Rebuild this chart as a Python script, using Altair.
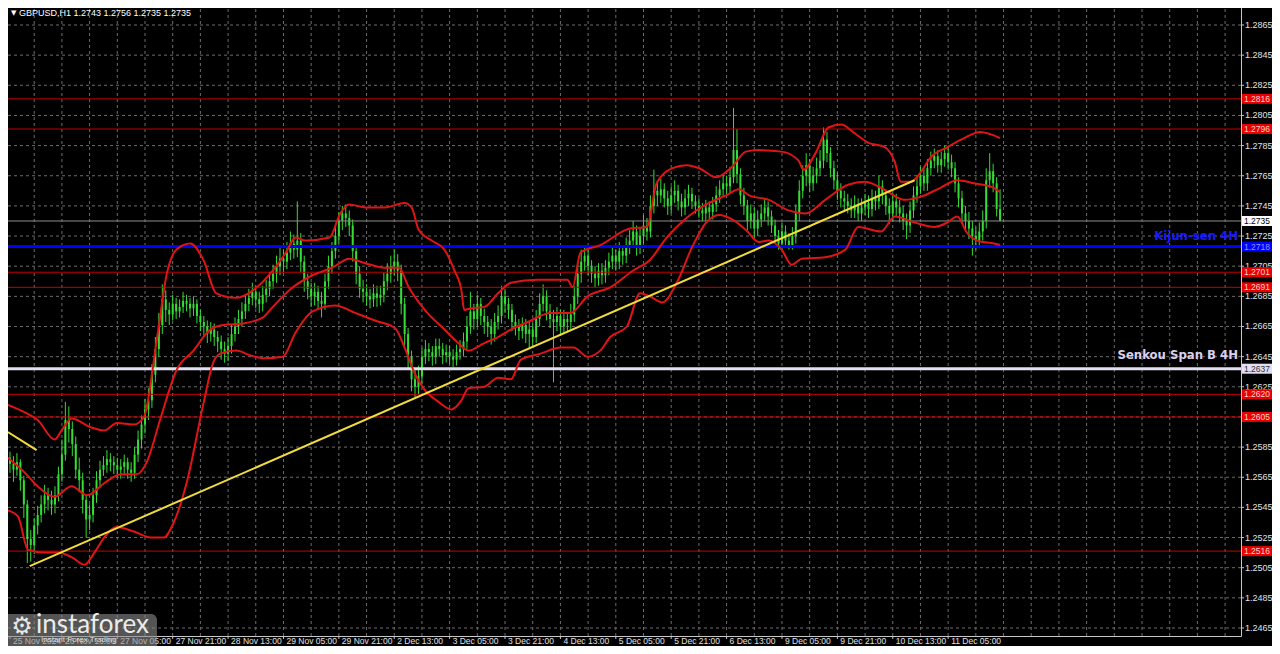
import altair as alt
import pandas as pd

# ---------------- data ----------------
OPEN0 = 1.2578
CLOSE = [
    1.2574, 1.2570, 1.2575, 1.2563, 1.2547, 1.2524, 1.2520, 1.2533, 1.2540, 1.2547,
    1.2553, 1.2550, 1.2547, 1.2553, 1.2567, 1.2580, 1.2603, 1.2597, 1.2587, 1.2570,
    1.2563, 1.2550, 1.2537, 1.2540, 1.2553, 1.2563, 1.2570, 1.2573, 1.2577, 1.2575,
    1.2573, 1.2570, 1.2572, 1.2575, 1.2570, 1.2568, 1.2580, 1.2590, 1.2600, 1.2610,
    1.2616, 1.2633, 1.2650, 1.2666, 1.2683, 1.2676, 1.2673, 1.2680, 1.2675, 1.2678,
    1.2682, 1.2680, 1.2677, 1.2680, 1.2672, 1.2668, 1.2665, 1.2660, 1.2663, 1.2658,
    1.2655, 1.2650, 1.2647, 1.2652, 1.2660, 1.2665, 1.2670, 1.2675, 1.2680, 1.2684,
    1.2688, 1.2683, 1.2680, 1.2686, 1.2690, 1.2695, 1.2700, 1.2705, 1.2710, 1.2708,
    1.2714, 1.2720, 1.2716, 1.2722, 1.2708, 1.2695, 1.2690, 1.2685, 1.2688, 1.2682,
    1.2680, 1.2695, 1.2705, 1.2715, 1.2725, 1.2735, 1.2740, 1.2737, 1.2732, 1.2715,
    1.2700, 1.2690, 1.2688, 1.2685, 1.2683, 1.2687, 1.2684, 1.2686, 1.2695, 1.2700,
    1.2705, 1.2708, 1.2702, 1.2680, 1.2660, 1.2645, 1.2630, 1.2625, 1.2632, 1.2645,
    1.2650, 1.2648, 1.2645, 1.2652, 1.2650, 1.2646, 1.2648, 1.2645, 1.2643, 1.2648,
    1.2650, 1.2655, 1.2665, 1.2675, 1.2670, 1.2680, 1.2672, 1.2668, 1.2665, 1.2660,
    1.2668, 1.2672, 1.2685, 1.2680, 1.2676, 1.2668, 1.2665, 1.2662, 1.2666, 1.2660,
    1.2663, 1.2658, 1.2670, 1.2680, 1.2685, 1.2675, 1.2670, 1.2668, 1.2672, 1.2665,
    1.2670, 1.2668, 1.2673, 1.2685, 1.2700, 1.2708, 1.2712, 1.2705, 1.2700, 1.2697,
    1.2702, 1.2699, 1.2704, 1.2708, 1.2712, 1.2708, 1.2715, 1.2712, 1.2718, 1.2722,
    1.2728, 1.2718, 1.2725, 1.2732, 1.2728, 1.2745, 1.2755, 1.2752, 1.2756, 1.2750,
    1.2745, 1.2752, 1.2755, 1.2748, 1.2744, 1.2750, 1.2753, 1.2748, 1.2745, 1.2742,
    1.2740, 1.2744, 1.2741, 1.2746, 1.2752, 1.2756, 1.2760, 1.2758, 1.2764, 1.2782,
    1.2766, 1.2752, 1.2745, 1.2735, 1.2740, 1.2730, 1.2736, 1.2740, 1.2744, 1.2738,
    1.2732, 1.2725, 1.2720, 1.2728, 1.2722, 1.2718, 1.2725, 1.2740, 1.2755, 1.2765,
    1.2772, 1.2760, 1.2765, 1.2770, 1.2775, 1.2789, 1.2780, 1.2770, 1.2762, 1.2755,
    1.2750, 1.2748, 1.2745, 1.2742, 1.2746, 1.2740, 1.2744, 1.2747, 1.2743, 1.2750,
    1.2748, 1.2758, 1.2752, 1.2745, 1.2740, 1.2748, 1.2744, 1.2740, 1.2735, 1.2732,
    1.2742, 1.2752, 1.2758, 1.2765, 1.2760, 1.2770, 1.2775, 1.2778, 1.2772, 1.2776,
    1.2780, 1.2774, 1.2770, 1.2760, 1.2750, 1.2740, 1.2735, 1.2730, 1.2725, 1.2722,
    1.2728, 1.2735, 1.2762, 1.2768, 1.2760, 1.2743, 1.2735,
]
HIGH = [
    1.2582, 1.2579, 1.2581, 1.2577, 1.2566, 1.2550, 1.2530, 1.2538, 1.2546, 1.2553,
    1.2560, 1.2558, 1.2556, 1.2559, 1.2572, 1.2590, 1.2615, 1.2612, 1.2602, 1.2592,
    1.2578, 1.2568, 1.2553, 1.2547, 1.2558, 1.2569, 1.2576, 1.2579, 1.2583, 1.2581,
    1.2579, 1.2578, 1.2577, 1.2580, 1.2578, 1.2575, 1.2585, 1.2596, 1.2606, 1.2617,
    1.2624, 1.2640, 1.2658, 1.2674, 1.2693, 1.2689, 1.2681, 1.2686, 1.2684, 1.2683,
    1.2688, 1.2686, 1.2684, 1.2685, 1.2683, 1.2676, 1.2672, 1.2669, 1.2668, 1.2667,
    1.2662, 1.2659, 1.2655, 1.2658, 1.2666, 1.2671, 1.2676, 1.2681, 1.2686, 1.2690,
    1.2694, 1.2692, 1.2688, 1.2692, 1.2696, 1.2701, 1.2706, 1.2712, 1.2717, 1.2716,
    1.2721, 1.2728, 1.2726, 1.2748, 1.2727, 1.2712, 1.2700, 1.2694, 1.2694, 1.2692,
    1.2688, 1.2700, 1.2712, 1.2721, 1.2731, 1.2741, 1.2745, 1.2746, 1.2742, 1.2736,
    1.2719, 1.2705, 1.2696, 1.2693, 1.2690, 1.2693, 1.2692, 1.2692, 1.2701, 1.2707,
    1.2712, 1.2716, 1.2713, 1.2706, 1.2684, 1.2664, 1.2649, 1.2636, 1.2639, 1.2651,
    1.2656, 1.2654, 1.2652, 1.2657, 1.2657, 1.2654, 1.2653, 1.2652, 1.2650, 1.2653,
    1.2656, 1.2661, 1.2672, 1.2688, 1.2680, 1.2686, 1.2684, 1.2677, 1.2672, 1.2670,
    1.2674, 1.2679, 1.2692, 1.2690, 1.2684, 1.2680, 1.2673, 1.2670, 1.2671, 1.2670,
    1.2668, 1.2667, 1.2676, 1.2687, 1.2693, 1.2689, 1.2680, 1.2676, 1.2678, 1.2676,
    1.2676, 1.2674, 1.2680, 1.2692, 1.2707, 1.2716, 1.2719, 1.2716, 1.2709, 1.2705,
    1.2707, 1.2707, 1.2709, 1.2714, 1.2718, 1.2716, 1.2721, 1.2719, 1.2724, 1.2729,
    1.2735, 1.2732, 1.2731, 1.2739, 1.2737, 1.2752, 1.2769, 1.2762, 1.2763, 1.2760,
    1.2755, 1.2758, 1.2762, 1.2759, 1.2753, 1.2756, 1.2759, 1.2757, 1.2752, 1.2750,
    1.2747, 1.2749, 1.2748, 1.2751, 1.2758, 1.2762, 1.2766, 1.2765, 1.2771, 1.2810,
    1.2796, 1.2770, 1.2757, 1.2749, 1.2746, 1.2744, 1.2742, 1.2746, 1.2750, 1.2748,
    1.2742, 1.2736, 1.2729, 1.2734, 1.2732, 1.2727, 1.2731, 1.2746, 1.2762, 1.2772,
    1.2780, 1.2776, 1.2771, 1.2777, 1.2782, 1.2797, 1.2794, 1.2784, 1.2775, 1.2767,
    1.2760, 1.2755, 1.2753, 1.2750, 1.2752, 1.2750, 1.2750, 1.2753, 1.2752, 1.2756,
    1.2755, 1.2765, 1.2762, 1.2756, 1.2750, 1.2754, 1.2753, 1.2749, 1.2745, 1.2740,
    1.2748, 1.2758, 1.2765, 1.2771, 1.2770, 1.2776, 1.2781, 1.2783, 1.2782, 1.2781,
    1.2785, 1.2784, 1.2779, 1.2774, 1.2764, 1.2755, 1.2745, 1.2741, 1.2735, 1.2731,
    1.2734, 1.2742, 1.2770, 1.2780, 1.2773, 1.2764, 1.2756,
]
LOW = [
    1.2568, 1.2562, 1.2566, 1.2556, 1.2538, 1.2508, 1.2509, 1.2514, 1.2527, 1.2535,
    1.2541, 1.2543, 1.2540, 1.2541, 1.2549, 1.2562, 1.2576, 1.2588, 1.2579, 1.2564,
    1.2555, 1.2541, 1.2525, 1.2530, 1.2535, 1.2548, 1.2558, 1.2566, 1.2568, 1.2569,
    1.2567, 1.2565, 1.2564, 1.2567, 1.2564, 1.2562, 1.2564, 1.2575, 1.2584, 1.2594,
    1.2603, 1.2611, 1.2628, 1.2645, 1.2660, 1.2668, 1.2666, 1.2669, 1.2670, 1.2671,
    1.2674, 1.2675, 1.2671, 1.2672, 1.2667, 1.2662, 1.2659, 1.2654, 1.2655, 1.2652,
    1.2648, 1.2643, 1.2641, 1.2642, 1.2647, 1.2655, 1.2660, 1.2665, 1.2670, 1.2675,
    1.2679, 1.2677, 1.2674, 1.2675, 1.2681, 1.2685, 1.2690, 1.2694, 1.2699, 1.2701,
    1.2703, 1.2709, 1.2710, 1.2711, 1.2701, 1.2688, 1.2683, 1.2678, 1.2679, 1.2676,
    1.2671, 1.2676, 1.2690, 1.2700, 1.2710, 1.2720, 1.2729, 1.2731, 1.2725, 1.2708,
    1.2693, 1.2684, 1.2681, 1.2679, 1.2677, 1.2678, 1.2678, 1.2679, 1.2681, 1.2689,
    1.2694, 1.2699, 1.2695, 1.2673, 1.2652, 1.2637, 1.2622, 1.2618, 1.2620, 1.2627,
    1.2640, 1.2642, 1.2639, 1.2640, 1.2645, 1.2640, 1.2641, 1.2640, 1.2638, 1.2639,
    1.2643, 1.2645, 1.2650, 1.2660, 1.2663, 1.2665, 1.2666, 1.2660, 1.2658, 1.2653,
    1.2655, 1.2663, 1.2667, 1.2674, 1.2670, 1.2662, 1.2659, 1.2656, 1.2657, 1.2654,
    1.2650, 1.2652, 1.2654, 1.2665, 1.2675, 1.2669, 1.2664, 1.2628, 1.2662, 1.2659,
    1.2660, 1.2662, 1.2663, 1.2668, 1.2680, 1.2694, 1.2702, 1.2699, 1.2694, 1.2691,
    1.2692, 1.2693, 1.2694, 1.2699, 1.2703, 1.2702, 1.2703, 1.2706, 1.2707, 1.2713,
    1.2717, 1.2712, 1.2713, 1.2720, 1.2722, 1.2724, 1.2740, 1.2745, 1.2747, 1.2744,
    1.2739, 1.2740, 1.2747, 1.2742, 1.2738, 1.2739, 1.2745, 1.2743, 1.2740, 1.2737,
    1.2735, 1.2735, 1.2736, 1.2736, 1.2741, 1.2747, 1.2751, 1.2752, 1.2753, 1.2760,
    1.2760, 1.2746, 1.2739, 1.2729, 1.2730, 1.2724, 1.2725, 1.2731, 1.2735, 1.2732,
    1.2727, 1.2720, 1.2716, 1.2716, 1.2717, 1.2716, 1.2716, 1.2720, 1.2735, 1.2750,
    1.2758, 1.2754, 1.2755, 1.2760, 1.2765, 1.2770, 1.2774, 1.2764, 1.2756, 1.2749,
    1.2744, 1.2742, 1.2740, 1.2737, 1.2737, 1.2735, 1.2735, 1.2739, 1.2737, 1.2738,
    1.2742, 1.2743, 1.2746, 1.2739, 1.2733, 1.2735, 1.2738, 1.2734, 1.2729, 1.2723,
    1.2727, 1.2737, 1.2747, 1.2753, 1.2755, 1.2755, 1.2765, 1.2770, 1.2767, 1.2767,
    1.2771, 1.2769, 1.2764, 1.2754, 1.2744, 1.2733, 1.2728, 1.2723, 1.2712, 1.2716,
    1.2717, 1.2722, 1.2730, 1.2757, 1.2754, 1.2738, 1.2735,
]

UPPER_I = [-0.6, 4.3, 8.0, 12.9, 14.9, 17.8, 23.5, 27.2, 30.9, 35.8, 38.7, 42.4, 45.3, 48.1,
           52.1, 55.9, 59.6, 65.3, 70.2, 75.9, 79.7, 82.5, 85.4, 92.3, 95.4, 98.0, 102.6,
           108.3, 114.0, 116.0, 118.1, 121.8, 125.5, 128.4, 130.4, 131.2, 133.2, 137.0,
           141.0, 144.7, 152.4, 161.0, 162.5, 164.8, 170.5, 179.1, 184.0, 186.8, 191.4,
           195.4, 199.1, 204.0, 208.6, 212.6, 216.3, 222.9, 227.8, 229.2, 232.7, 236.4,
           240.1, 244.1, 247.9, 252.7, 255.6, 257.3, 260.2, 263.0, 265.9, 270.8, 275.6,
           280.2, 286.0]
UPPER_P = [1.2613, 1.2608, 1.2603, 1.2590, 1.2596, 1.2604, 1.2598, 1.2596, 1.2601, 1.2600,
           1.2605, 1.2656, 1.2700, 1.2716, 1.2720, 1.2709, 1.2687, 1.2684, 1.2689, 1.2702,
           1.2714, 1.2724, 1.2722, 1.2724, 1.2740, 1.2746, 1.2744, 1.2744, 1.2747, 1.2744,
           1.2729, 1.2722, 1.2716, 1.2702, 1.2689, 1.2676, 1.2677, 1.2678, 1.2687, 1.2694,
           1.2696, 1.2696, 1.2691, 1.2714, 1.2719, 1.2730, 1.2731, 1.2760, 1.2770, 1.2772,
           1.2770, 1.2764, 1.2771, 1.2781, 1.2782, 1.2781, 1.2775, 1.2769, 1.2780, 1.2797,
           1.2799, 1.2793, 1.2787, 1.2784, 1.2774, 1.2761, 1.2761, 1.2767, 1.2777, 1.2784,
           1.2790, 1.2794, 1.2790]

MID_I = [-0.6, 4.3, 8.0, 12.9, 17.8, 22.3, 27.2, 32.1, 36.7, 39.5, 43.6, 48.1, 53.0, 57.9,
         61.6, 67.3, 73.1, 75.9, 81.7, 87.4, 93.1, 98.0, 102.6, 108.3, 112.3, 115.2, 119.8,
         125.5, 129.5, 132.4, 137.0, 141.0, 144.7, 149.6, 156.2, 161.9, 166.8, 173.4, 179.9,
         184.8, 189.7, 195.4, 201.1, 206.9, 210.6, 213.5, 219.2, 224.9, 229.8, 235.5, 242.1,
         247.0, 251.6, 258.5, 263.0, 268.8, 273.6, 278.5, 284.2, 286.0]
MID_P = [1.2578, 1.2568, 1.2559, 1.2552, 1.2559, 1.2553, 1.2561, 1.2567, 1.2567, 1.2575,
         1.2605, 1.2636, 1.2649, 1.2663, 1.2666, 1.2667, 1.2671, 1.2678, 1.2691, 1.2699,
         1.2704, 1.2710, 1.2707, 1.2704, 1.2704, 1.2691, 1.2676, 1.2663, 1.2654, 1.2649,
         1.2654, 1.2658, 1.2663, 1.2668, 1.2674, 1.2674, 1.2685, 1.2691, 1.2702, 1.2709,
         1.2724, 1.2737, 1.2746, 1.2752, 1.2756, 1.2752, 1.2749, 1.2742, 1.2740, 1.2749,
         1.2759, 1.2761, 1.2757, 1.2749, 1.2751, 1.2757, 1.2762, 1.2760, 1.2757, 1.2754]

LOWER_I = [-0.6, 2.3, 5.2, 10.0, 13.8, 17.8, 21.5, 24.4, 27.2, 30.9, 35.8, 40.7, 44.4, 47.3,
           51.0, 55.9, 58.7, 60.7, 65.3, 69.3, 73.1, 78.8, 82.5, 87.4, 94.0, 99.7, 105.4,
           111.2, 114.0, 116.9, 119.8, 123.8, 127.5, 130.4, 132.4, 137.0, 141.0, 144.7,
           147.6, 153.3, 159.0, 162.8, 166.8, 170.5, 173.4, 178.2, 182.0, 184.8, 188.5,
           192.6, 197.1, 201.1, 204.9, 208.6, 212.6, 216.3, 219.2, 222.9, 225.8, 228.7,
           235.5, 241.3, 245.0, 251.6, 255.6, 261.3, 267.0, 270.8, 273.6, 276.5, 279.4,
           284.2, 286.0]
LOWER_P = [1.2543, 1.2539, 1.2517, 1.2515, 1.2515, 1.2512, 1.2507, 1.2515, 1.2525, 1.2532,
           1.2529, 1.2525, 1.2525, 1.2535, 1.2561, 1.2614, 1.2641, 1.2647, 1.2649, 1.2646,
           1.2644, 1.2645, 1.2661, 1.2675, 1.2679, 1.2674, 1.2669, 1.2664, 1.2651, 1.2634,
           1.2623, 1.2615, 1.2610, 1.2616, 1.2624, 1.2625, 1.2631, 1.2630, 1.2643, 1.2647,
           1.2651, 1.2651, 1.2645, 1.2649, 1.2658, 1.2665, 1.2687, 1.2685, 1.2681, 1.2694,
           1.2718, 1.2734, 1.2739, 1.2736, 1.2729, 1.2721, 1.2722, 1.2716, 1.2706, 1.2710,
           1.2711, 1.2716, 1.2731, 1.2728, 1.2738, 1.2734, 1.2731, 1.2734, 1.2738, 1.2727,
           1.2722, 1.2720, 1.2719]

TREND_I = [5.7, 261.3]
TREND_P = [1.2506, 1.2762]
OLD_TREND_I = [-0.6, 7.7]
OLD_TREND_P = [1.2595, 1.2583]

LEVELS = [1.2816, 1.2796, 1.2701, 1.2691, 1.2620, 1.2605, 1.2516]
KIJUN = 1.2718
SENKOU = 1.2637
LAST = 1.2735

GRID_P = [1.2465, 1.2485, 1.2505, 1.2525, 1.2545, 1.2565, 1.2585, 1.2605, 1.2625, 1.2645,
          1.2665, 1.2685, 1.2705, 1.2725, 1.2745, 1.2765, 1.2785, 1.2805, 1.2825, 1.2845,
          1.2865]
GRID_I = list(range(7, 356, 8))

TIME_I = [0, 15, 31, 47, 63, 79, 95, 111, 127, 143, 159, 175, 191, 207, 223, 239, 255, 271]
TIME_LBL = ["25 Nov 2024", "26 Nov 13:00", "27 Nov 05:00", "27 Nov 21:00", "28 Nov 13:00",
            "29 Nov 05:00", "29 Nov 21:00", "2 Dec 13:00", "3 Dec 05:00", "3 Dec 21:00",
            "4 Dec 13:00", "5 Dec 05:00", "5 Dec 21:00", "6 Dec 13:00", "9 Dec 05:00",
            "9 Dec 21:00", "10 Dec 13:00", "11 Dec 05:00"]

TITLE = "GBPUSD,H1  1.2743 1.2756 1.2735 1.2735"

# ---------------- styling ----------------
W, H = 1238, 633
FONT = "Liberation Sans"
BOLD_FONT = "DejaVu Sans Condensed"
GREEN = "#34dc34"
RED = "#e01414"
LEVEL_RED = "#c40000"
GRID = "#6c6c6c"
FRAME = "#c8c8c8"
LABEL = "#e2e2e2"
BOX_X = 1254

XS = alt.Scale(domain=[-0.573, 354.15], nice=False, zero=False)
YS = alt.Scale(domain=[1.245969, 1.287959], nice=False, zero=False)


def X(f):
    return alt.X(f"{f}:Q", scale=XS, axis=None)


def Y(f):
    return alt.Y(f"{f}:Q", scale=YS, axis=None)


opens = [OPEN0] + CLOSE[:-1]
bars = pd.DataFrame({
    "i": list(range(len(CLOSE))),
    "o": opens,
    "c": CLOSE,
    "h": [max(h, o, c) for h, o, c in zip(HIGH, opens, CLOSE)],
    "l": [min(l, o, c) for l, o, c in zip(LOW, opens, CLOSE)],
})

grid_df = pd.DataFrame({"p": GRID_P, "t": [f"{v:.4f}" for v in GRID_P]})
hgrid = alt.Chart(grid_df).mark_rule(
    color=GRID, strokeDash=[3, 3], strokeWidth=1).encode(y=Y("p"))
vgrid = alt.Chart(pd.DataFrame({"i": GRID_I})).mark_rule(
    color=GRID, strokeDash=[3, 3], strokeWidth=1).encode(x=X("i"))
ytick = alt.Chart(grid_df).mark_rule(color=FRAME, strokeWidth=1).encode(
    x=alt.value(W), x2=alt.value(W + 3), y=Y("p"))
ylabel = alt.Chart(grid_df).mark_text(
    align="left", baseline="middle", font=FONT, fontSize=9, color=LABEL).encode(
    x=alt.value(W + 4), y=Y("p"), text="t:N")

wick = alt.Chart(bars).mark_rule(color=GREEN, strokeWidth=1).encode(
    x=X("i"), y=Y("l"), y2="h")
body = alt.Chart(bars).mark_bar(color=GREEN, size=2).encode(
    x=X("i"), y=Y("o"), y2="c")

levels = alt.Chart(pd.DataFrame({"p": LEVELS})).mark_rule(
    color=LEVEL_RED, strokeWidth=1).encode(y=Y("p"))
last_line = alt.Chart(pd.DataFrame({"p": [LAST]})).mark_rule(
    color="#8c8c8c", strokeWidth=1).encode(y=Y("p"))
kijun_line = alt.Chart(pd.DataFrame({"p": [KIJUN]})).mark_rule(
    color="#0000ff", strokeWidth=3).encode(y=Y("p"))
senkou_line = alt.Chart(pd.DataFrame({"p": [SENKOU]})).mark_rule(
    color="#e4def2", strokeWidth=3).encode(y=Y("p"))


def band(ii, pp):
    return alt.Chart(pd.DataFrame({"i": ii, "p": pp})).mark_line(
        color=RED, strokeWidth=2, interpolate="monotone").encode(x=X("i"), y=Y("p"))


upper = band(UPPER_I, UPPER_P)
middle = band(MID_I, MID_P)
lower = band(LOWER_I, LOWER_P)

trend = alt.Chart(pd.DataFrame({"i": TREND_I, "p": TREND_P})).mark_line(
    color="#f2dc3c", strokeWidth=2).encode(x=X("i"), y=Y("p"))
old_trend = alt.Chart(pd.DataFrame({"i": OLD_TREND_I, "p": OLD_TREND_P})).mark_line(
    color="#f2dc3c", strokeWidth=2).encode(x=X("i"), y=Y("p"))

kijun_txt = alt.Chart(pd.DataFrame({"p": [KIJUN], "t": ["Kijun-sen 4H"]})).mark_text(
    align="right", baseline="middle", dy=-11, font=BOLD_FONT, fontWeight="bold",
    fontSize=13, color="#1a1aff").encode(x=alt.value(W - 3), y=Y("p"), text="t:N")
senkou_txt = alt.Chart(pd.DataFrame({"p": [SENKOU], "t": ["Senkou Span B 4H"]})).mark_text(
    align="right", baseline="middle", dy=-14, font=BOLD_FONT, fontWeight="bold",
    fontSize=13, color="#d8d0ee").encode(x=alt.value(W - 3), y=Y("p"), text="t:N")

box_p = LEVELS + [KIJUN, SENKOU, LAST]
box_df = pd.DataFrame({
    "p": box_p,
    "t": [f"{v:.4f}" for v in box_p],
    "bg": ["#e80000"] * len(LEVELS) + ["#0000ff", "#e4def2", "#ffffff"],
    "fg": ["#ffd0d0"] * len(LEVELS) + ["#9090ff", "#303030", "#000000"],
})
boxes = alt.Chart(box_df).mark_tick(orient="horizontal", size=30, thickness=10, opacity=1).encode(
    x=alt.value(BOX_X), y=Y("p"), color=alt.Color("bg:N", scale=None))
box_txt = alt.Chart(box_df).mark_text(
    align="center", baseline="middle", font=FONT, fontSize=8.5).encode(
    x=alt.value(BOX_X), y=Y("p"), text="t:N", color=alt.Color("fg:N", scale=None))

time_df = pd.DataFrame({"i": TIME_I, "t": TIME_LBL})
time_ticks = alt.Chart(time_df).mark_rule(color=FRAME, strokeWidth=1).encode(
    x=X("i"), y=alt.value(H), y2=alt.value(H + 3))
time_txt = alt.Chart(time_df).mark_text(
    align="left", baseline="middle", dx=3, font=FONT, fontSize=8.5, color=LABEL).encode(
    x=X("i"), y=alt.value(H + 5), text="t:N")

one = pd.DataFrame({"k": [0]})
title_arrow = alt.Chart(one).mark_text(
    text="▼", align="left", baseline="middle", fontSize=7, color="#ffffff", font="DejaVu Sans").encode(
    x=alt.value(8), y=alt.value(10))
title = alt.Chart(one).mark_text(
    text=TITLE, align="left", baseline="middle", fontSize=9, color="#ffffff", font=FONT).encode(
    x=alt.value(16), y=alt.value(10))

logo_box = alt.Chart(one).mark_rect(color="#8c8c8c", opacity=0.6, cornerRadiusTopRight=6).encode(
    x=alt.value(-3), x2=alt.value(154), y=alt.value(611), y2=alt.value(651))
logo_gear = alt.Chart(one).mark_text(
    text="⚙", align="center", baseline="middle", fontSize=24, color="#e6e6e6", font="DejaVu Sans").encode(
    x=alt.value(19), y=alt.value(624))
logo_txt = alt.Chart(one).mark_text(
    text="instaforex", align="left", baseline="middle", fontSize=26, color="#ececec", font="Lato").encode(
    x=alt.value(33), y=alt.value(622))
logo_sub = alt.Chart(one).mark_text(
    text="Instant Forex Trading", align="left", baseline="middle", fontSize=8, color="#dcdcdc", font=FONT).encode(
    x=alt.value(38), y=alt.value(637))

chart = alt.layer(
    hgrid, vgrid, ytick, ylabel, wick, body, levels, last_line, kijun_line, senkou_line,
    upper, middle, lower, trend, old_trend, kijun_txt, senkou_txt,
    boxes, box_txt, time_ticks, time_txt, title_arrow, title,
    logo_box, logo_gear, logo_txt, logo_sub,
).properties(
    width=W, height=H,
    padding={"left": -5, "top": -5, "right": 31, "bottom": 10},
    autosize=alt.AutoSizeParams(type="none"),
    background="#000000",
).configure_view(stroke=FRAME, strokeWidth=1)

chart.save("out.html", embed_options={"renderer": "svg", "actions": False})
